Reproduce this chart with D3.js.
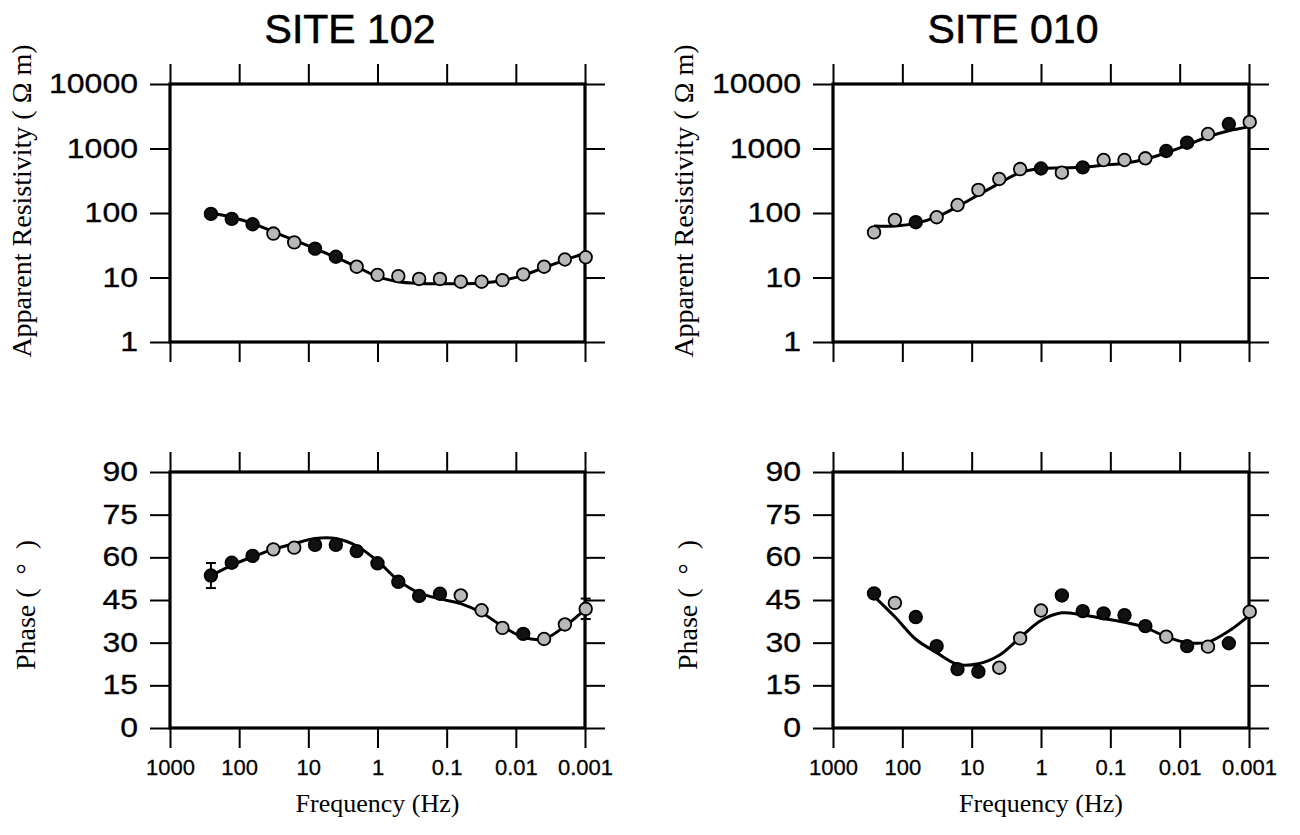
<!DOCTYPE html>
<html>
<head>
<meta charset="utf-8">
<script src="https://cdn.jsdelivr.net/npm/d3@7"></script>
<style>
  body { margin: 0; background: #fff; }
</style>
</head>
<body>
<div id="chart"></div>
<script>
// frequencies of the soundings (Hz), 256 down to 1/1024
const freq = [256, 128, 64, 32, 16, 8, 4, 2, 1, 0.5, 0.25, 0.125, 0.0625, 0.03125,
              0.015625, 0.0078125, 0.00390625, 0.001953125, 0.0009765625];

// SITE 102
const rho102      = [97, 81, 67, 48, 35, 28, 21, 14.7, 11, 10.5, 9.5, 9.5, 8.6, 8.6, 9.1, 11.2, 14.7, 19, 20.6];
const rho102Fit   = [100, 86, 69, 51, 38, 28, 20.6, 14.7, 10.3, 8.6, 8.1, 8.0, 8.0, 8.2, 9.0, 10.8, 14.2, 18.6, 24];
const phase102    = [53.6, 58.1, 60.5, 62.8, 63.4, 64.4, 64.4, 62.2, 57.9, 51.4, 46.4, 47.2, 46.6, 41.4, 35.2, 33.1, 31.3, 36.4, 41.9];
const phase102Fit = [53.6, 57.2, 60.2, 62.8, 64.8, 66.6, 66.6, 64.0, 58.7, 51.9, 47.5, 45.4, 43.7, 40.5, 35.8, 31.9, 31.3, 35.8, 41.9];
const phase102Err = [4.4, 0, 0, 0, 0, 0, 0, 0, 0, 0, 0, 0, 0, 0, 0, 0, 0, 0, 3.6];
const rho102Solid   = [1, 1, 1, 0, 0, 1, 1, 0, 0, 0, 0, 0, 0, 0, 0, 0, 0, 0, 0];
const phase102Solid = [1, 1, 1, 0, 0, 1, 1, 1, 1, 1, 1, 1, 0, 0, 0, 1, 0, 0, 0];

// SITE 010
const rho010      = [50, 78, 72, 86, 133, 228, 337, 480, 490, 422, 510, 663, 663, 705, 915, 1230, 1680, 2400, 2580];
const rho010Fit   = [63, 63, 69, 87, 126, 191, 288, 422, 490, 500, 510, 550, 590, 680, 860, 1130, 1520, 1890, 2180];
const phase010    = [47.3, 44.0, 39.0, 28.8, 20.7, 19.8, 21.2, 31.5, 41.3, 46.6, 41.1, 40.3, 39.7, 35.8, 32.1, 28.8, 28.6, 29.8, 40.9];
const phase010Fit = [46.3, 39.1, 31.2, 26.5, 22.4, 22.6, 25.6, 31.8, 37.8, 40.5, 39.7, 38.5, 37.2, 35.3, 32.1, 30.0, 30.2, 34.1, 39.7];
const rho010Solid   = [0, 0, 1, 0, 0, 0, 0, 0, 1, 0, 1, 0, 0, 0, 1, 1, 0, 1, 0];
const phase010Solid = [1, 0, 1, 1, 1, 1, 0, 0, 0, 1, 1, 1, 1, 1, 0, 1, 0, 1, 0];

// axes
const freqTicks = [1000, 100, 10, 1, 0.1, 0.01, 0.001];
const freqTickLabels = ["1000", "100", "10", "1", "0.1", "0.01", "0.001"];
const rhoTicks = [1, 10, 100, 1000, 10000];
const phaseTicks = [0, 15, 30, 45, 60, 75, 90];

const sites = [
  {title: "SITE 102", rho: rho102, rhoFit: rho102Fit, phase: phase102, phaseFit: phase102Fit,
   err: phase102Err, rhoSolid: rho102Solid, phaseSolid: phase102Solid},
  {title: "SITE 010", rho: rho010, rhoFit: rho010Fit, phase: phase010, phaseFit: phase010Fit,
   err: null, rhoSolid: rho010Solid, phaseSolid: phase010Solid}
];

const W = 1300, H = 835;
const cols = [{x0: 170, x1: 585, titleX: 350, labX: 31}, {x0: 833, x1: 1249, titleX: 1013, labX: 693}];
const rows = {top: {y0: 84, y1: 342}, bottom: {y0: 472, y1: 728}};

const sans = "'Liberation Sans', Arial, Helvetica, sans-serif";
const serif = "'Liberation Serif', 'Times New Roman', Times, serif";

const svg = d3.select("#chart")
  .append("svg")
  .attr("width", W)
  .attr("height", H)
  .style("background", "#fff");

function styleAxis(g) {
  g.select(".domain").remove();
  g.selectAll(".tick line").attr("stroke", "#000").attr("stroke-width", 2);
}

function panel(col, row, yScale, yTicks, values, fit, solid, err, showX) {
  const x = d3.scaleLog().domain([1000, 0.001]).range([col.x0, col.x1]);
  const g = svg.append("g");

  // ticks on all four sides, outward
  g.append("g").attr("transform", `translate(0,${row.y0})`)
    .call(d3.axisTop(x).tickValues(freqTicks).tickSize(20).tickFormat(""))
    .call(styleAxis);
  const bx = g.append("g").attr("transform", `translate(0,${row.y1})`)
    .call(d3.axisBottom(x).tickValues(freqTicks).tickSize(20).tickPadding(11)
      .tickFormat((d, i) => showX ? freqTickLabels[i] : ""))
    .call(styleAxis);
  bx.selectAll("text").attr("fill", "#000")
    .attr("stroke", "#000").attr("stroke-width", 0.3)
    .style("font-family", sans).style("font-size", "22px");

  const ly = g.append("g").attr("transform", `translate(${col.x0},0)`)
    .call(d3.axisLeft(yScale).tickValues(yTicks).tickSize(20).tickPadding(12).tickFormat(d3.format("d")))
    .call(styleAxis);
  ly.selectAll("text").attr("fill", "#000")
    .attr("stroke", "#000").attr("stroke-width", 0.3)
    .style("font-family", sans).style("font-size", "27px")
    .attr("textLength", function() { return this.textContent.length * 17.8; })
    .attr("lengthAdjust", "spacingAndGlyphs");
  g.append("g").attr("transform", `translate(${col.x1},0)`)
    .call(d3.axisRight(yScale).tickValues(yTicks).tickSize(20).tickFormat(""))
    .call(styleAxis);

  // frame
  g.append("rect")
    .attr("x", col.x0).attr("y", row.y0)
    .attr("width", col.x1 - col.x0).attr("height", row.y1 - row.y0)
    .attr("fill", "none").attr("stroke", "#000").attr("stroke-width", 3.2);

  // model response
  const line = d3.line()
    .x((d, i) => x(freq[i]))
    .y(d => yScale(d))
    .curve(d3.curveCatmullRom.alpha(0.5));
  g.append("path")
    .datum(fit)
    .attr("d", line)
    .attr("fill", "none")
    .attr("stroke", "#000")
    .attr("stroke-width", 3);

  // error bars
  if (err) {
    const eb = g.append("g").selectAll("g")
      .data(values.map((v, i) => ({f: freq[i], v: v, e: err[i]})).filter(d => d.e > 0))
      .join("g");
    eb.append("line")
      .attr("x1", d => x(d.f)).attr("x2", d => x(d.f))
      .attr("y1", d => yScale(d.v + d.e)).attr("y2", d => yScale(d.v - d.e))
      .attr("stroke", "#000").attr("stroke-width", 2);
    eb.selectAll("line.cap")
      .data(d => [d.v + d.e, d.v - d.e].map(v => ({f: d.f, v: v})))
      .join("line")
      .attr("class", "cap")
      .attr("x1", d => x(d.f) - 5).attr("x2", d => x(d.f) + 5)
      .attr("y1", d => yScale(d.v)).attr("y2", d => yScale(d.v))
      .attr("stroke", "#000").attr("stroke-width", 2);
  }

  // observed data
  g.append("g")
    .selectAll("circle")
    .data(values)
    .join("circle")
      .attr("cx", (d, i) => x(freq[i]))
      .attr("cy", d => yScale(d))
      .attr("r", 6.3)
      .attr("fill", (d, i) => solid[i] ? "#111" : "#b8b8b8")
      .attr("stroke", "#000")
      .attr("stroke-width", 1.8);
}

sites.forEach((s, c) => {
  const col = cols[c];
  const yRho = d3.scaleLog().domain([1, 10000]).range([rows.top.y1, rows.top.y0]);
  const yPh = d3.scaleLinear().domain([0, 90]).range([rows.bottom.y1, rows.bottom.y0]);

  panel(col, rows.top, yRho, rhoTicks, s.rho, s.rhoFit, s.rhoSolid, null, false);
  panel(col, rows.bottom, yPh, phaseTicks, s.phase, s.phaseFit, s.phaseSolid, s.err, true);

  // site title
  svg.append("text")
    .attr("x", col.titleX).attr("y", 43)
    .attr("text-anchor", "middle")
    .attr("stroke", "#000").attr("stroke-width", 0.6)
    .style("font-family", sans).style("font-size", "41px")
    .text(s.title);

  // axis titles
  svg.append("text")
    .attr("transform", `translate(${col.labX},${(rows.top.y0 + rows.top.y1) / 2 - 12}) rotate(-90)`)
    .attr("text-anchor", "middle")
    .style("font-family", serif).style("font-size", "28px")
    .style("white-space", "pre")
    .text("Apparent Resistivity ( \u03A9 m)");
  svg.append("text")
    .attr("transform", `translate(${col.labX + 4},${(rows.bottom.y0 + rows.bottom.y1) / 2 + 5}) rotate(-90)`)
    .attr("text-anchor", "middle")
    .style("font-family", serif).style("font-size", "28px")
    .style("white-space", "pre")
    .text("Phase (  \u00B0  )");
  svg.append("text")
    .attr("x", (col.x0 + col.x1) / 2).attr("y", 812)
    .attr("text-anchor", "middle")
    .style("font-family", serif).style("font-size", "26px")
    .text("Frequency (Hz)");
});
</script>
</body>
</html>
